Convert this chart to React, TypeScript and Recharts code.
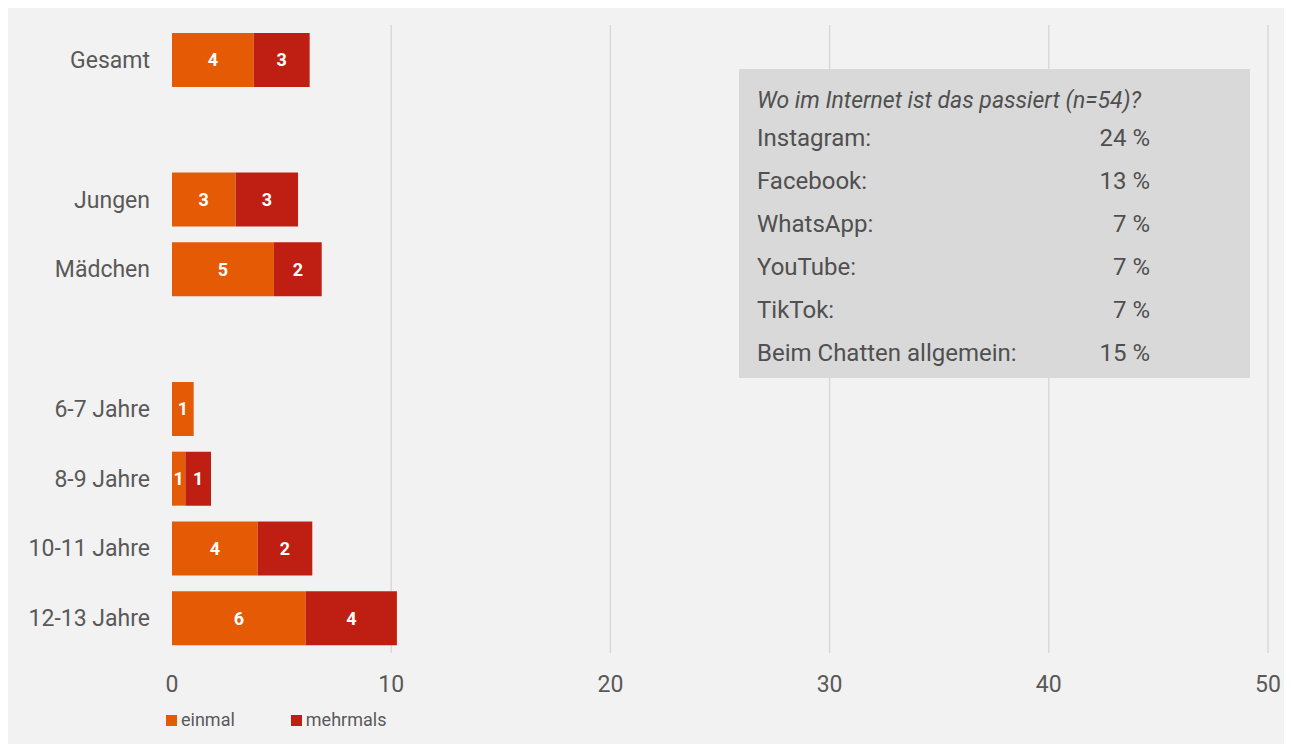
import React from "react";
import { BarChart, Bar, XAxis, YAxis, CartesianGrid, LabelList } from "recharts";

const categories = ["Gesamt", "", "Jungen", "Mädchen", " ", "6-7 Jahre", "8-9 Jahre", "10-11 Jahre", "12-13 Jahre"];
const einmal = [3.73, null, 2.9, 4.65, null, 0.99, 0.61, 3.91, 6.1];
const mehrmals = [2.55, null, 2.85, 2.18, null, null, 1.17, 2.49, 4.16];
const xTicks = [0, 10, 20, 30, 40, 50];
const gridTicks = [10, 20, 30, 40, 50];

const seriesNames = ["einmal", "mehrmals"];
const seriesColors = ["#e55a05", "#bf1f12"];

const insetTitle = "Wo im Internet ist das passiert (n=54)?";
const insetLabels = ["Instagram:", "Facebook:", "WhatsApp:", "YouTube:", "TikTok:", "Beim Chatten allgemein:"];
const insetValues = ["24 %", "13 %", "7 %", "7 %", "7 %", "15 %"];

const data = categories.map((name, i) => ({ name, einmal: einmal[i], mehrmals: mehrmals[i] }));

const FONT = "Roboto, 'Liberation Sans', sans-serif";
const TEXT = "#595959";

const fmt = (v: any) => (v === null || v === undefined || v === 0 ? "" : String(Math.round(v)));

const XTick = (props: any) => {
  const { x, y, payload } = props;
  return (
    <text x={x} y={y} textAnchor="middle" dy={31} fontSize={23} fontFamily={FONT} fill={TEXT}>
      {payload.value}
    </text>
  );
};

export default function App() {
  return (
    <div
      style={{
        position: "relative",
        width: 1280,
        height: 738,
        margin: "-2px 0 0 -2px",
        background: "#f2f2f2",
        fontFamily: FONT,
      }}
    >
      <BarChart
        width={1280}
        height={738}
        data={data}
        layout="vertical"
        margin={{ top: 19, right: 18, left: 0, bottom: 61 }}
        barSize={54}
      >
        <CartesianGrid
          horizontal={false}
          stroke="#d9d9d9"
          strokeWidth={1.5}
          verticalCoordinatesGenerator={(p: any) => {
            const s = p && p.xAxis && p.xAxis.scale;
            if (s && typeof s === "function") return gridTicks.map((v) => s(v));
            if (s && s.map) return gridTicks.map((v) => s.map(v));
            return [];
          }}
        />
        <XAxis
          type="number"
          domain={[0, 50]}
          ticks={xTicks}
          axisLine={false}
          tickLine={false}
          tick={<XTick />}
          height={30}
        />
        <YAxis
          type="category"
          dataKey="name"
          width={166}
          axisLine={false}
          tickLine={false}
          tickSize={6}
          tickMargin={16}
          tick={{ fontSize: 23, fill: TEXT, fontFamily: FONT }}
          interval={0}
        />
        {seriesNames.map((s, i) => (
          <Bar key={s} dataKey={s} stackId="a" fill={seriesColors[i]} isAnimationActive={false}>
            <LabelList
              dataKey={s}
              position="center"
              formatter={fmt}
              fill="#ffffff"
              fontSize={18}
              fontWeight="bold"
              fontFamily={FONT}
            />
          </Bar>
        ))}
      </BarChart>

      <div
        style={{
          position: "absolute",
          left: 160,
          top: 702,
          display: "flex",
          alignItems: "center",
          whiteSpace: "nowrap",
        }}
      >
        {seriesNames.map((s, i) => (
          <div key={s} style={{ display: "flex", alignItems: "center", marginRight: 56 }}>
            <div style={{ width: 11, height: 11, background: seriesColors[i], marginRight: 4 }} />
            <span style={{ fontSize: 18, color: TEXT, lineHeight: "24px" }}>{s}</span>
          </div>
        ))}
      </div>

      <div
        style={{
          position: "absolute",
          left: 733,
          top: 63,
          width: 511,
          height: 309,
          background: "#d9d9d9",
          color: "#505050",
          fontSize: 24,
        }}
      >
        <div
          style={{
            position: "absolute",
            left: 18,
            top: 10,
            lineHeight: "43px",
            fontSize: 23,
            fontStyle: "italic",
            whiteSpace: "nowrap",
          }}
        >
          {insetTitle}
        </div>
        {insetLabels.map((l, i) => (
          <div key={l} style={{ position: "absolute", left: 0, width: 511, top: 48 + i * 43, height: 43, lineHeight: "43px" }}>
            <span style={{ position: "absolute", left: 18, whiteSpace: "nowrap" }}>{l}</span>
            <span style={{ position: "absolute", right: 100, whiteSpace: "nowrap" }}>{insetValues[i]}</span>
          </div>
        ))}
      </div>
    </div>
  );
}
